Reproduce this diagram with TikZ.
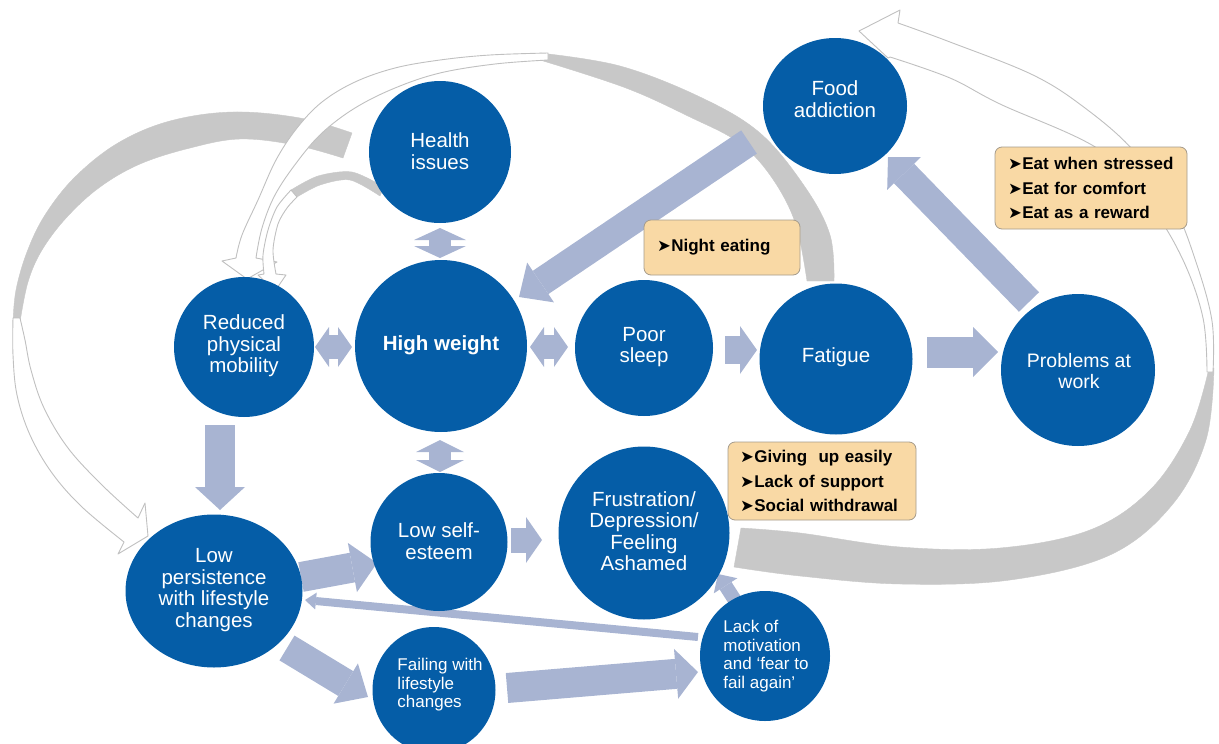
\documentclass[tikz,border=0pt]{standalone}
\usepackage{fontspec}
\setmainfont{Liberation Sans}
\newfontfamily\dejavu{DejaVu Sans}
\usetikzlibrary{shapes.geometric,arrows.meta,calc}
\pgfdeclarelayer{bg}
\pgfsetlayers{bg,main}
\definecolor{cblue}{RGB}{5,93,167}
\definecolor{carr}{RGB}{168,180,210}
\definecolor{cgray}{RGB}{200,200,200}
\definecolor{cline}{RGB}{192,192,192}
\definecolor{cbox}{RGB}{249,217,165}
\definecolor{cboxb}{RGB}{165,155,140}
\newcommand{\bul}{{\dejavu\fontsize{16.5}{16.5}\selectfont ➤}\hspace{0.5pt}}
\tikzset{
  circ/.style={ellipse, fill=cblue, draw=none, inner sep=0pt, outer sep=0pt},
  ctext/.style={text=white, align=center, inner sep=0pt, font=\fontsize{20.5}{21.5}\selectfont},
  stext/.style={text=white, align=left, inner sep=0pt, font=\fontsize{17}{18.5}\selectfont},
  bx/.style={draw=cboxb, line width=0.8pt, fill=cbox, rounded corners=7pt, anchor=north west,
     align=left, outer sep=0pt, inner ysep=0pt, font=\bfseries\fontsize{17}{24.5}\selectfont},
  ba/.style n args={3}{draw=carr, line width=#1, -{Triangle[width=#2,length=#3,line width=0pt]}},
  dba/.style n args={3}{draw=carr, line width=#1, {Triangle[width=#2,length=#3,line width=0pt]}-{Triangle[width=#2,length=#3,line width=0pt]}},
  rg/.style={fill=cgray, draw=cgray, line width=0.4pt, line join=round},
  rw/.style={fill=white, draw=cline, line width=0.9pt, line join=round},
}
\begin{document}
\begin{tikzpicture}[x=1pt,y=-1pt]
\useasboundingbox (0,0) rectangle (1219,744);

% circles
\node[circ, minimum width=142pt, minimum height=142pt] (hi) at (440,152) {};
\node[circ, minimum width=144pt, minimum height=136pt] (fa) at (835,106) {};
\node[circ, minimum width=172pt, minimum height=172pt] (hw) at (441,346) {};
\node[circ, minimum width=140pt, minimum height=140pt] (rpm) at (244,347) {};
\node[circ, minimum width=138pt, minimum height=136pt] (ps) at (644,348) {};
\node[circ, minimum width=153pt, minimum height=151pt] (fat) at (836,359) {};
\node[circ, minimum width=154pt, minimum height=152pt] (pw) at (1078,370) {};
\node[circ, minimum width=137pt, minimum height=138pt] (lse) at (439,542) {};
\node[circ, minimum width=171pt, minimum height=173pt] (frus) at (644,533) {};
\node[circ, minimum width=177pt, minimum height=153pt] (lp) at (214,591) {};
\node[circ, minimum width=123pt, minimum height=126pt] (fwl) at (434,690) {};
\node[circ, minimum width=130pt, minimum height=130pt] (lm) at (765,656) {};

% circle texts
\node[ctext] (hit) at (hi) [yshift=1pt] {Health\\issues};
\node[ctext] (fat2) at (835,99) {Food\\addiction};
\node[ctext, font=\bfseries\fontsize{20.5}{21.5}\selectfont] (hwt) at (441,345) {High weight};
\node[ctext] (rpmt) at (244,346) {Reduced\\physical\\mobility};
\node[ctext] (pst) at (644,347) {Poor\\sleep};
\node[ctext] (fatt) at (836,357) {Fatigue};
\node[ctext, font=\fontsize{19.5}{21.5}\selectfont] (pwt) at (1079,371) {Problems at\\work};
\node[ctext] (lset) at (439,541) {Low self-\\esteem};
\node[ctext] (frust) at (644,531) {Frustration/\\Depression/\\Feeling\\Ashamed};
\node[ctext] (lpt) at (214,590) {Low\\persistence\\with lifestyle\\changes};
\node[stext] (fwlt) at (440,685) {Failing with\\lifestyle\\changes};
\node[stext] (lmt) at (766,656) {Lack of\\motivation\\and ‘fear to\\fail again’};

% text boxes
\node[bx, text width=130pt, inner xsep=13pt, minimum height=55pt] (ne) at (644,220) {\bul Night eating};
\node[bx, text width=166pt, inner xsep=13pt, minimum height=82pt] (eat) at (995,147)
  {\bul Eat when stressed\\\bul Eat for comfort\\\bul Eat as a reward};
\node[bx, text width=164pt, inner xsep=12pt, minimum height=78pt] (gu) at (728,442)
  {\bul Giving\ \ up easily\\\bul Lack of support\\\bul Social withdrawal};

\begin{pgfonlayer}{bg}
% left ribbon (top -> low persistence)
\path[rg] plot[smooth,tension=0.6] coordinates {(352,133) (300,118) (233,112) (170,121) (118,143) (75,177) (45,215) (27,252) (16,290) (13,322)}
  -- plot[smooth,tension=0.6] coordinates {(20,322) (28,282) (42,250) (67,217) (100,187) (140,164) (190,148) (240,139) (295,145) (343,158)} -- cycle;
\path[rw] plot[smooth,tension=0.6] coordinates {(13,318) (13,355) (17,395) (30,435) (52,473) (82,507) (124,542)}
  -- (118,554) -- (148,536) -- (145,503) -- (138,518)
  -- plot[smooth,tension=0.6] coordinates {(138,518) (102,485) (68,448) (44,408) (31,370) (25,340) (20,318)} -- cycle;
% top ribbon (fatigue -> reduced mobility)
\path[rg] plot[smooth,tension=0.6] coordinates {(834,281) (830,235) (805,187) (760,133) (700,97) (620,66) (540,53)}
  -- plot[smooth,tension=0.6] coordinates {(540,60) (626,88) (690,117) (738,142) (770,175) (795,222) (807,281)} -- cycle;
\path[rw] plot[smooth,tension=0.6] coordinates {(548,53) (490,55) (440,60) (395,68) (355,82) (322,102) (297,128) (276,160) (258,200) (242,235) (236,258)}
  -- (222,261) -- (247,279) -- (277,262) -- (256,258)
  -- plot[smooth,tension=0.6] coordinates {(256,258) (262,228) (275,195) (297,162) (322,133) (355,108) (395,88) (440,73) (495,64) (548,60)} -- cycle;
% small ribbon (health issues -> reduced mobility)
\path[rg] plot[smooth] coordinates {(384,187) (352,172) (318,176) (291,190)}
  -- plot[smooth] coordinates {(297,197) (320,185) (350,180) (380,196)} -- cycle;
\path[rw] plot[smooth] coordinates {(291,190) (277,207) (268,230) (263,255) (264,274)}
  -- (258,275) -- (275,291) -- (286,275) -- (276,274)
  -- plot[smooth] coordinates {(276,274) (273,250) (278,224) (287,208) (297,197)} -- cycle;
% right ribbon (frustration -> food addiction)
\path[rg] plot[smooth,tension=0.6] coordinates {(741,528) (800,533) (900,547) (1000,548) (1090,530) (1150,490) (1190,430) (1209,368)}
  -- plot[smooth,tension=0.6] coordinates {(1214,368) (1206,440) (1172,505) (1110,555) (1010,580) (900,584) (800,576) (734,567)} -- cycle;
\path[rw] plot[smooth,tension=0.6] coordinates {(1213,372) (1212,321) (1196,262) (1173,205) (1133,150) (1085,108) (1033,75) (950,42) (898,23)}
  -- (900,10) -- (859,31) -- (888,58)
  -- plot[smooth,tension=0.6] coordinates {(890,57) (950,78) (1000,104) (1100,150) (1150,205) (1183,260) (1203,318) (1207,372)} -- cycle;

% block arrows
\draw[dba={22pt}{52pt}{12pt}] ($(hi)+(0,76)$) -- ($(hw)+(-1,-88)$);
\draw[dba={22pt}{48pt}{12pt}] ($(hw)+(-1,94)$) -- ($(lse)+(1,-70)$);
\draw[dba={24pt}{40pt}{14pt}] ($(rpm)+(71,0)$) -- ($(hw)+(-89,1)$);
\draw[dba={24pt}{40pt}{14pt}] ($(hw)+(89,1)$) -- ($(ps)+(-76,-1)$);
\draw[ba={28pt}{48pt}{17pt}] ($(ps)+(81,2)$) -- ($(fat)+(-79,-9)$);
\draw[ba={31pt}{50pt}{25pt}] ($(fat)+(91,-7)$) -- ($(pw)+(-80,-18)$);
\draw[ba={28pt}{47pt}{23pt}] ($(pw)+(-49,-68)$) -- ($(fa)+(53,51)$);
\draw[ba={28pt}{48pt}{26pt}] ($(fa)+(-86,36)$) -- ($(hw)+(78,-49)$);
\draw[ba={30pt}{50pt}{23pt}] ($(rpm)+(-24,78)$) -- ($(lp)+(6,-81)$);
\draw[ba={30pt}{50pt}{25pt}] ($(lp)+(87,-14)$) -- ($(lse)+(-62,21)$);
\draw[ba={25pt}{46pt}{16pt}] ($(lse)+(72,-2)$) -- ($(frus)+(-102,7)$);
\draw[ba={29pt}{47pt}{26pt}] ($(lp)+(73,57)$) -- ($(fwl)+(-66,7)$);
\draw[ba={30pt}{50pt}{22pt}] ($(fwl)+(73,-2)$) -- ($(lm)+(-67,16)$);
\draw[ba={8pt}{17pt}{11pt}] ($(lm)+(-67,-19)$) -- ($(lp)+(91,9)$);
\draw[ba={14pt}{28pt}{14pt}] ($(lm)+(-29,-54)$) -- ($(frus)+(74,41)$);
\end{pgfonlayer}
\end{tikzpicture}
\end{document}
